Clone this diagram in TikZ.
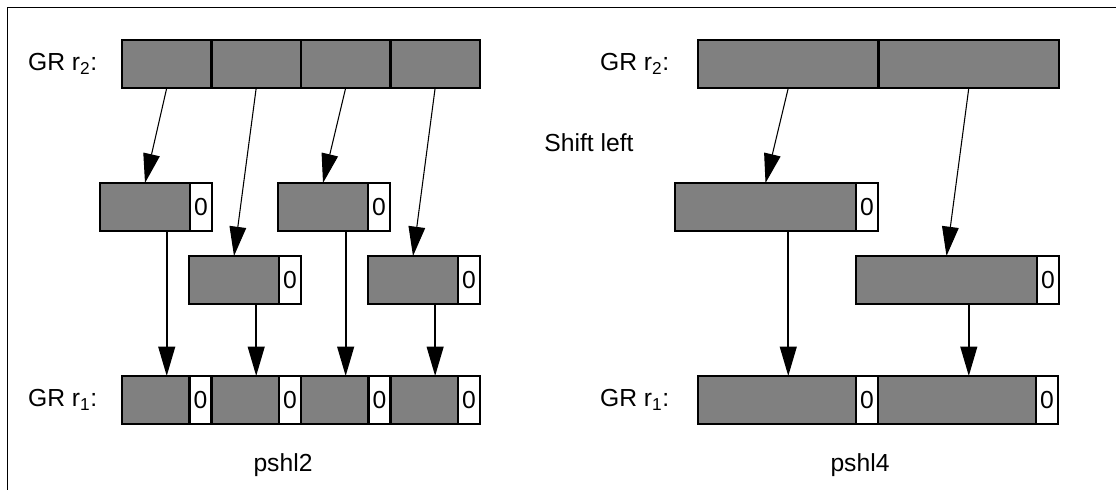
\documentclass[tikz,border=0pt]{standalone}
\usepackage{fontspec}
\setmainfont{Liberation Sans}
\usetikzlibrary{arrows.meta,positioning}
\definecolor{cellgray}{gray}{0.5}

\begin{document}
\begin{tikzpicture}[x=0.75pt,y=-0.75pt,
    font=\fontsize{18.5}{21}\selectfont,
    gcell/.style={draw, fill=cellgray, line width=1.8pt, inner sep=0pt, outer sep=0pt,
        minimum height=36pt, minimum width=#1},
    zcell/.style={draw, fill=white, line width=1.8pt, inner sep=0pt, outer sep=0pt,
        minimum height=36pt, minimum width=16.5pt},
    thinarrow/.style={line width=0.8pt, -{Triangle[length=22pt,width=12.5pt]}},
    thickarrow/.style={line width=1.5pt, -{Triangle[length=22pt,width=12.5pt]}}]
    \useasboundingbox (0,0) rectangle (1116,490);
    \draw[line width=0.75pt] (1116,7) -- (7,7) -- (7,490);

    % pshl2
    \node[gcell=67.1pt, anchor=north west] (ra1) at (122,40) {};
    \node[gcell=67.1pt, right=0pt of ra1] (ra2) {};
    \node[gcell=67.1pt, right=0pt of ra2] (ra3) {};
    \node[gcell=67.1pt, right=0pt of ra3] (ra4) {};

    \node[gcell=67.5pt, anchor=north west] (ma) at (100,183) {};
    \node[zcell, right=0pt of ma] (ma0) {0};
    \node[gcell=67.5pt, anchor=north west] (mb) at (278,183) {};
    \node[zcell, right=0pt of mb] (mb0) {0};
    \node[gcell=67.5pt, anchor=north west] (mc) at (189,256) {};
    \node[zcell, right=0pt of mc] (mc0) {0};
    \node[gcell=67.5pt, anchor=north west] (md) at (368,256) {};
    \node[zcell, right=0pt of md] (md0) {0};

    \node[gcell=50.6pt, anchor=north west] (qa) at (122,376) {};
    \node[zcell, right=0pt of qa] (qa0) {0};
    \node[gcell=50.6pt, right=0pt of qa0] (qb) {};
    \node[zcell, right=0pt of qb] (qb0) {0};
    \node[gcell=50.6pt, right=0pt of qb0] (qc) {};
    \node[zcell, right=0pt of qc] (qc0) {0};
    \node[gcell=50.6pt, right=0pt of qc0] (qd) {};
    \node[zcell, right=0pt of qd] (qd0) {0};

    \node[anchor=east] (la2) at (102,64) {GR r\textsubscript{2}:};
    \node[anchor=east] (la1) at (102,400) {GR r\textsubscript{1}:};
    \node (tla) at (283,465) {pshl2};

    \draw[thinarrow] (ra1.south) -- (ma.north);
    \draw[thinarrow] (ra2.south) -- (mc.north);
    \draw[thinarrow] (ra3.south) -- (mb.north);
    \draw[thinarrow] (ra4.south) -- (md.north);
    \draw[thickarrow] (ra1.south |- ma.south) -- (ra1.south |- qa.north);
    \draw[thickarrow] (ra2.south |- mc.south) -- (ra2.south |- qb.north);
    \draw[thickarrow] (ra3.south |- mb.south) -- (ra3.south |- qc.north);
    \draw[thickarrow] (ra4.south |- md.south) -- (ra4.south |- qd.north);

    \node (shift) at (589,143) {Shift left};

    % pshl4
    \node[gcell=135.4pt, anchor=north west] (rb1) at (698,40) {};
    \node[gcell=135.4pt, right=0pt of rb1] (rb2) {};

    \node[gcell=135.75pt, anchor=north west] (me) at (675,183) {};
    \node[zcell, right=0pt of me] (me0) {0};
    \node[gcell=135.75pt, anchor=north west] (mf) at (856,256) {};
    \node[zcell, right=0pt of mf] (mf0) {0};

    \node[gcell=118.5pt, anchor=north west] (qe) at (698,376) {};
    \node[zcell, right=0pt of qe] (qe0) {0};
    \node[gcell=118.5pt, right=0pt of qe0] (qf) {};
    \node[zcell, right=0pt of qf] (qf0) {0};

    \node[anchor=east] (lb2) at (674,64) {GR r\textsubscript{2}:};
    \node[anchor=east] (lb1) at (674,400) {GR r\textsubscript{1}:};
    \node (tlb) at (860,465) {pshl4};

    \draw[thinarrow] (rb1.south) -- (me.north);
    \draw[thinarrow] (rb2.south) -- (mf.north);
    \draw[thickarrow] (rb1.south |- me.south) -- (rb1.south |- qe.north);
    \draw[thickarrow] (rb2.south |- mf.south) -- (rb2.south |- qf.north);
\end{tikzpicture}
\end{document}
